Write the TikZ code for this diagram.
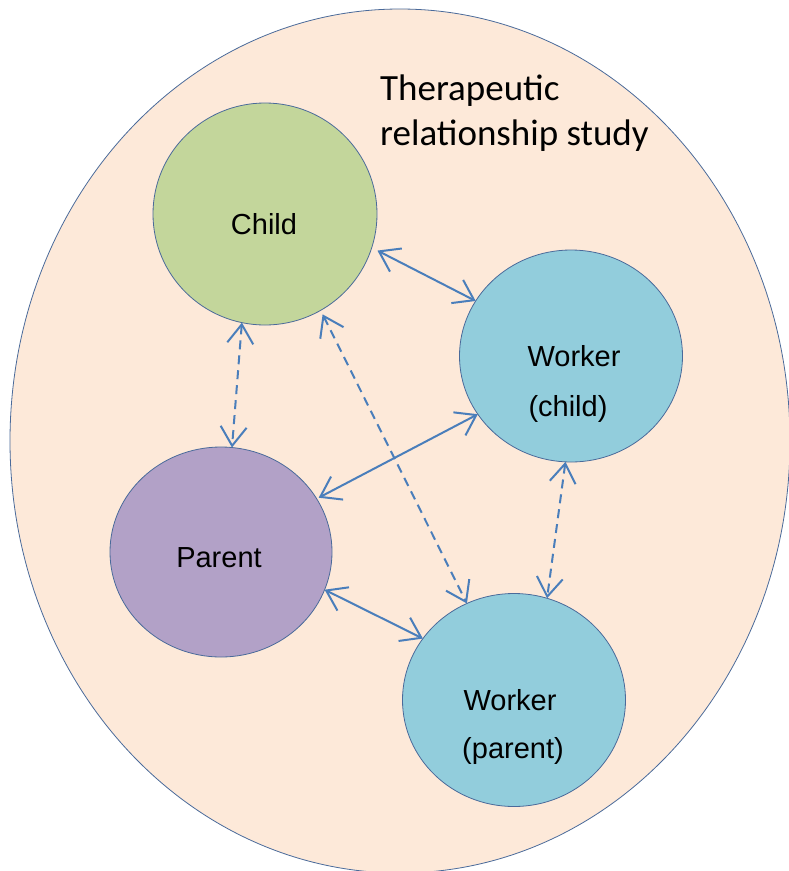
\documentclass[tikz,border=0pt]{standalone}
\usepackage{fontspec}
\setmainfont{Liberation Sans}
\newfontfamily\titlefont{Carlito}
\usetikzlibrary{arrows.meta,shapes.geometric}
\definecolor{peach}{HTML}{FDE9D9}
\definecolor{childgreen}{HTML}{C3D69B}
\definecolor{workerblue}{HTML}{92CDDC}
\definecolor{parentpurple}{HTML}{B2A1C7}
\definecolor{rimblue}{HTML}{4A6A9A}
\definecolor{linkblue}{HTML}{4A7EBB}
\tikzset{
  person/.style={ellipse, draw=rimblue, line width=0.8pt, inner sep=0pt, outer sep=0pt},
  lbl/.style={anchor=base, inner sep=0pt, font=\fontsize{29}{34}\selectfont},
  ttl/.style={anchor=base west, inner sep=0pt, font=\titlefont\fontsize{37}{45}\selectfont},
  link/.style={draw=linkblue, line width=2pt,
    arrows={Straight Barb[length=19pt,width=26pt,line width=2pt]-Straight Barb[length=19pt,width=26pt,line width=2pt]}},
  weaklink/.style={link, dash pattern=on 9pt off 6pt}
}
\begin{document}
\begin{tikzpicture}[x=1pt,y=-1pt]
\clip (0,0) rectangle (789,871);
% outer study boundary
\node[ellipse, draw=rimblue, fill=peach, line width=0.8pt, inner sep=0pt,
      minimum width=780pt, minimum height=864pt] (study) at (400,441) {};
\node[ttl] (title1) at (380,100) {Therapeutic};
\node[ttl] (title2) at (380,145) {relationship study};

% participants
\node[person, fill=childgreen, minimum width=224pt, minimum height=222pt] (child) at (265,214) {};
\node[person, fill=workerblue, minimum width=223pt, minimum height=212pt] (wchild) at (571,356) {};
\node[person, fill=parentpurple, minimum width=222pt, minimum height=210pt] (parent) at (221,552) {};
\node[person, fill=workerblue, minimum width=223pt, minimum height=213pt] (wparent) at (514,700) {};

\node[lbl] (childlbl) at (264,234) {Child};
\node[lbl] (wchildlbl1) at (574,366) {Worker};
\node[lbl] (wchildlbl2) at (568,416) {(child)};
\node[lbl] (parentlbl) at (219,567) {Parent};
\node[lbl] (wparentlbl1) at (510,710) {Worker};
\node[lbl] (wparentlbl2) at (513,758) {(parent)};

% relationships
\draw[link] ([shift={(6pt,-2pt)}]child.-18.7) -- (wchild.150.7);
\draw[link] ([shift={(4pt,-2pt)}]parent.31.8) -- (wchild.-148.6);
\draw[link] (parent.-20.8) -- (wparent.146.9);
\draw[weaklink] (child.-102.6) -- (parent.84.1);
\draw[weaklink] ([shift={(2pt,-4pt)}]child.-60.1) -- (wparent.116.3);
\draw[weaklink] (wchild.-93.2) -- (wparent.72.7);
\end{tikzpicture}
\end{document}
